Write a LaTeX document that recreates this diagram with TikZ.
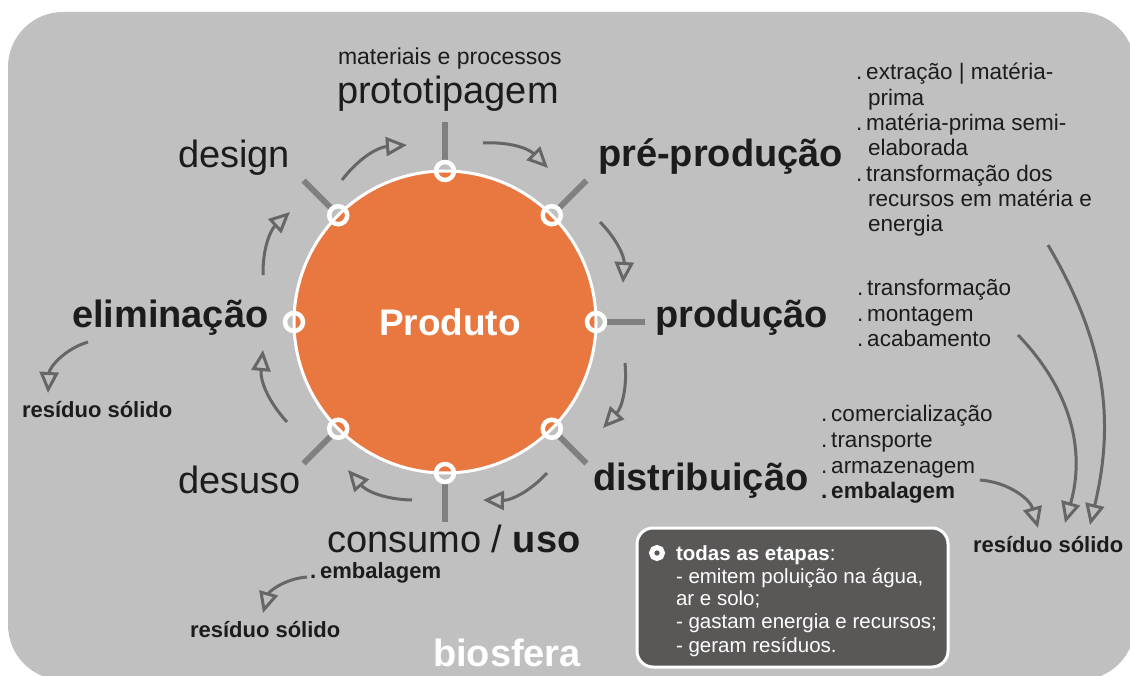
\documentclass[tikz,border=0pt]{standalone}
\usepackage{fontspec}
\setmainfont{Liberation Sans}
\usetikzlibrary{arrows.meta,calc}
\definecolor{bg}{RGB}{192,192,192}
\definecolor{orng}{RGB}{232,120,64}
\definecolor{arr}{RGB}{102,102,102}
\definecolor{spk}{RGB}{128,128,128}
\definecolor{boxc}{RGB}{90,87,87}
\definecolor{ink}{RGB}{28,28,28}
\begin{document}
\begin{tikzpicture}[x=1pt,y=-1pt,
  lbl/.style={inner sep=0pt, outer sep=0pt, text=ink, anchor=base west},
  big/.style={lbl, font=\fontsize{38}{40}\selectfont},
  bigb/.style={lbl, font=\fontsize{38}{40}\selectfont\bfseries},
  sml/.style={lbl, font=\fontsize{22.5}{24}\selectfont},
  smlb/.style={lbl, font=\fontsize{22.5}{24}\selectfont\bfseries},
  boxt/.style={lbl, text=white, font=\fontsize{20.5}{22}\selectfont},
  cyc/.style={draw=arr, line width=3pt, -{Triangle[open,length=21pt,width=19pt]}},
  spoke/.style={draw=spk, line width=6pt},
  ring/.style={draw=white, line width=4.5pt, circle, minimum size=18pt, inner sep=0pt},
]
\useasboundingbox (0,0) rectangle (1130,676);
\clip (0,0) rectangle (1130,676);
\fill[white] (0,0) rectangle (1130,676);
\fill[bg, rounded corners=55pt] (8,12) rectangle (1135,680);

% centre
\coordinate (C) at (445,322);
% spokes
\foreach \a/\n in {90/sT,45/sUR,0/sR,-45/sLR,-90/sB,-135/sLL,135/sUL}{
  \coordinate (\n a) at ($(C)+({-\a}:162)$);
  \coordinate (\n b) at ($(C)+({-\a}:200)$);
  \draw[spoke] (\n a) -- (\n b);
}
% product circle
\node[circle, fill=orng, draw=white, line width=3pt, minimum size=302pt, inner sep=0pt] (prod) at (C) {};
\node[inner sep=0pt, text=white, font=\fontsize{37}{39}\selectfont\bfseries, anchor=base] (prodt) at (450,335) {Produto};
% rings
\foreach \a/\n in {90/rT,45/rUR,0/rR,-45/rLR,-90/rB,-135/rLL,180/rL,135/rUL}{
  \node[ring] (\n) at ($(C)+({-\a}:151)$) {};
}

% stage labels
\node[lbl, font=\fontsize{23}{25}\selectfont] (mat) at (338,65) {materiais e processos};
\node[big] (proto) at (337,104) {prototipagem};
\node[big] (design) at (178,168) {design};
\node[bigb] (prep) at (598,167) {pré-produção};
\node[bigb] (produ) at (655,327) {produção};
\node[bigb] (elim) at (72,328) {eliminação};
\node[big] (desuso) at (178,493) {desuso};
\node[bigb] (distr) at (593,490) {distribuição};
\node[big] (consumo) at (327,552) {consumo / \textbf{uso}};

% cycle arrows
\coordinate (a1s) at (342,180); \coordinate (a1e) at (407,145);
\coordinate (a2s) at (483,143); \coordinate (a2e) at (548,168);
\coordinate (a3s) at (600,222); \coordinate (a3e) at (623,283);
\coordinate (a4s) at (625,363); \coordinate (a4e) at (603,428);
\coordinate (a5s) at (547,473); \coordinate (a5e) at (483,500);
\coordinate (a6s) at (412,500); \coordinate (a6e) at (348,470);
\coordinate (a7s) at (287,422); \coordinate (a7e) at (263,350);
\coordinate (a8s) at (263,275); \coordinate (a8e) at (290,212);
\foreach \i in {1,...,8}{
  \draw[cyc] (a\i s) to[bend left=24] (a\i e);
}

% right lists
\node[sml] (l1a) at (856,80) {.\hspace{4pt}extração | matéria-};
\node[sml] (l1b) at (868,105.3) {prima};
\node[sml] (l1c) at (856,130.6) {.\hspace{4pt}matéria-prima semi-};
\node[sml] (l1d) at (868,155.9) {elaborada};
\node[sml] (l1e) at (856,181.2) {.\hspace{4pt}transformação dos};
\node[sml] (l1f) at (868,206.5) {recursos em matéria e};
\node[sml] (l1g) at (868,231.8) {energia};

\node[sml] (l2a) at (857,296) {.\hspace{4pt}transformação};
\node[sml] (l2b) at (857,321.5) {.\hspace{4pt}montagem};
\node[sml] (l2c) at (857,347) {.\hspace{4pt}acabamento};

\node[sml] (l3a) at (821,421) {.\hspace{4pt}comercialização};
\node[sml] (l3b) at (821,447) {.\hspace{4pt}transporte};
\node[sml] (l3c) at (821,473) {.\hspace{4pt}armazenagem};
\node[smlb] (l3d) at (821,498) {.\hspace{4pt}embalagem};

% residue labels
\node[smlb, font=\fontsize{22}{24}\selectfont\bfseries] (resL) at (22,417) {resíduo sólido};
\node[smlb, font=\fontsize{22}{24}\selectfont\bfseries] (embB) at (310,578) {.\hspace{4pt}embalagem};
\node[smlb, font=\fontsize{22}{24}\selectfont\bfseries] (resB) at (190,637) {resíduo sólido};
\node[smlb, font=\fontsize{22}{24}\selectfont\bfseries] (resR) at (973,552) {resíduo sólido};

% residue arrows
\coordinate (o1s) at (88,342);   \coordinate (o1e) at (48,393);
\coordinate (o2s) at (307,577);  \coordinate (o2e) at (263,613);
\coordinate (o3s) at (980,480);  \coordinate (o3e) at (1038,528);
\coordinate (o4s) at (1018,335); \coordinate (o4e) at (1065,523);
\coordinate (o5s) at (1048,245); \coordinate (o5e) at (1090,525);
\draw[cyc] (o1s) to[bend right=35] (o1e);
\draw[cyc] (o2s) to[bend right=35] (o2e);
\draw[cyc] (o3s) to[bend left=35] (o3e);
\draw[cyc] (o4s) to[bend left=30] (o4e);
\draw[cyc] (o5s) to[bend left=22] (o5e);

% info box
\node[draw=white, line width=3pt, fill=boxc, rounded corners=16pt, minimum width=311pt, minimum height=139pt, inner sep=0pt] (box) at (792.5,597.5) {};
\node[draw=white, line width=5pt, circle, minimum size=11pt, inner sep=0pt] (bul) at (657,553) {};
\node[boxt] (bt1) at (676,560) {\textbf{todas as etapas}:};
\node[boxt] (bt2) at (676,583) {- emitem poluição na água,};
\node[boxt] (bt3) at (676,605.5) {ar e solo;};
\node[boxt] (bt4) at (676,628.5) {- gastam energia e recursos;};
\node[boxt] (bt5) at (676,652) {- geram resíduos.};

% biosfera
\node[lbl, text=white, font=\fontsize{38}{40}\selectfont\bfseries] (bio) at (433,666) {biosfera};
\end{tikzpicture}
\end{document}
